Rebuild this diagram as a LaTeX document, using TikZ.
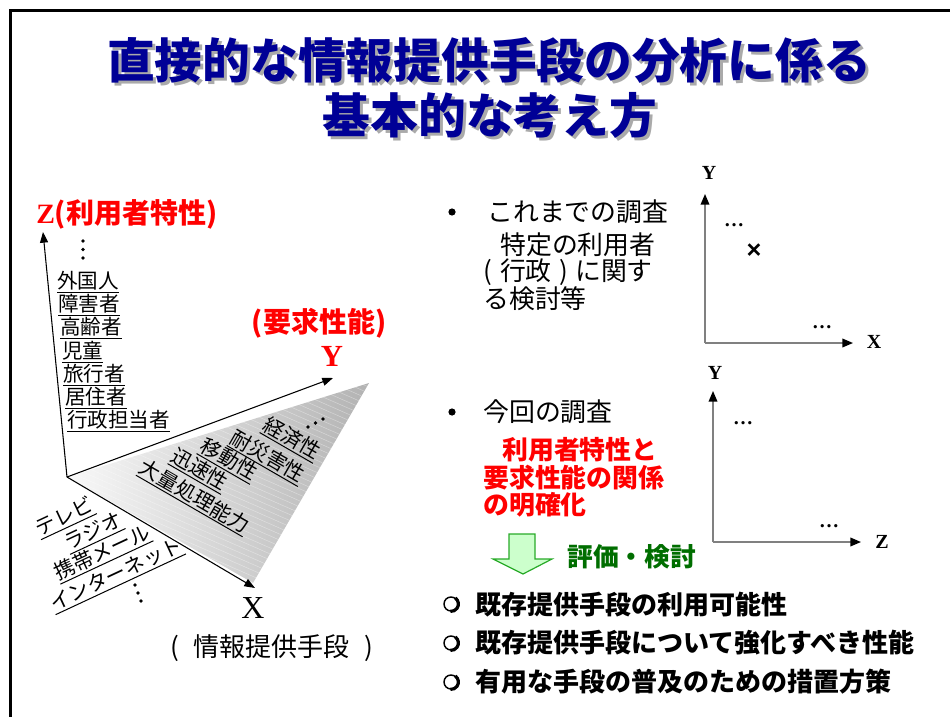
\documentclass[tikz,border=0pt]{standalone}
\usepackage{fontspec}
\setmainfont{Noto Sans CJK JP}
\newfontfamily\serif{Liberation Serif}
\newfontfamily\lsans{Liberation Sans}
\usetikzlibrary{arrows.meta}
\definecolor{titleblue}{RGB}{0,0,150}
\definecolor{shadowgray}{RGB}{170,170,170}
\definecolor{myred}{RGB}{255,0,0}
\definecolor{dgreen}{RGB}{0,110,0}
\definecolor{lgreen}{RGB}{204,255,204}
\definecolor{agreen}{RGB}{40,170,40}
\definecolor{axisgray}{RGB}{128,128,128}
\newcommand\fsz[1]{\fontsize{#1}{#1}\selectfont}
\newcommand\ulx[1]{\setbox0\hbox{#1}\rlap{\smash{\rule[-3.2pt]{\wd0}{0.75pt}}}\box0}
\tikzset{
  titletext/.style={font=\bfseries\fsz{35.8pt}, text=titleblue, inner sep=0pt},
  titleshadow/.style={font=\bfseries\fsz{35.8pt}, text=shadowgray, inner sep=0pt},
  zitem/.style={font=\fsz{15.4pt}, anchor=west, inner sep=0pt},
  ritem/.style={font=\fsz{15.4pt}, inner sep=0pt, rotate=-30},
  xitem/.style={font=\fsz{15.4pt}, inner sep=0pt, rotate=25},
  body/.style={font=\fsz{19.4pt}, anchor=west, inner sep=0pt},
  redbody/.style={font=\bfseries\fsz{19.4pt}, text=myred, anchor=west, inner sep=0pt},
  listitem/.style={font=\bfseries\fsz{19.5pt}, anchor=west, inner sep=0pt},
  axis3d/.style={line width=0.8pt, -{Triangle[length=8pt,width=6pt]}},
  axis2d/.style={draw=axisgray, line width=1.1pt, -{Triangle[length=8pt,width=6.5pt,color=black]}},
  glabel/.style={font=\serif\bfseries\fsz{15pt}, inner sep=0pt},
  dots/.style={font=\serif\bfseries\fsz{15pt}, inner sep=0pt},
  dotmark/.style={fill=black},
}
\begin{document}
\begin{tikzpicture}[x=0.75pt,y=-0.75pt]
\useasboundingbox (0,0) rectangle (950,717);
% frame
\draw[line width=2.2pt] (10.5,717) -- (10.5,10.5) -- (950,10.5);
% title
\node[titleshadow] at (492,63) {直接的な情報提供手段の分析に係る};
\node[titletext] (t1) at (489,60) {直接的な情報提供手段の分析に係る};
\node[titleshadow] at (493,118) {基本的な考え方};
\node[titletext] (t2) at (490,115) {基本的な考え方};

% ---------- left 3D diagram ----------
\coordinate (O) at (67,477);
\coordinate (Zt) at (43,232);
\coordinate (Yt) at (333,378);
\coordinate (Xt) at (255,588);
\coordinate (P1) at (68,477);
\coordinate (P2) at (369,383);
\coordinate (P3) at (253,583);
\shade[left color=gray!5, right color=gray!60] (P1) -- (P2) -- (P3) -- cycle;
\begin{scope}
\clip (P1) -- (P2) -- (P3) -- cycle;
\foreach \k in {-60,...,40} {
  \draw[white, opacity=0.4, line width=0.35pt] (60,300+\k*6) -- (380,440+\k*6);
}
\end{scope}
\draw[axis3d] (O) -- (Zt);
\draw[axis3d] (O) -- (Yt);
\draw[axis3d] (O) -- (Xt);

\node[font=\bfseries\fsz{21pt}, text=myred, anchor=west, inner sep=0pt] (zlab) at (36,214) {{\serif Z}(利用者特性)};
\fill[dotmark] (83,241) circle (1.8);
\fill[dotmark] (83,249.5) circle (1.8);
\fill[dotmark] (83,258) circle (1.8);
\node[zitem] (z1) at (57,281) {\ulx{外国人}};
\node[zitem] (z2) at (58,304) {\ulx{障害者}};
\node[zitem] (z3) at (60,327) {\ulx{高齢者}};
\node[zitem] (z4) at (62,351) {\ulx{児童}};
\node[zitem] (z5) at (63,374) {\ulx{旅行者}};
\node[zitem] (z6) at (65,397) {\ulx{居住者}};
\node[zitem] (z7) at (67,420) {\ulx{行政担当者}};

\node[font=\bfseries\fsz{21pt}, text=myred, inner sep=0pt] (ylab2) at (319,323) {(要求性能)};
\node[font=\serif\bfseries\fsz{23pt}, text=myred, inner sep=0pt] (ylab) at (332,356) {Y};

\fill[dotmark] (308,427) circle (1.9);
\fill[dotmark] (315.5,423) circle (1.9);
\fill[dotmark] (323,419) circle (1.9);
\node[ritem] (y1) at (292,438) {\ulx{経済性}};
\node[ritem] (y2) at (268,456) {\ulx{耐災害性}};
\node[ritem] (y3) at (229,459) {\ulx{移動性}};
\node[ritem] (y4) at (200,469) {\ulx{迅速性}};
\node[ritem] (y5) at (195,496) {\ulx{大量処理能力}};

\node[xitem] (x1) at (64,516) {\ulx{テレビ}};
\node[xitem] (x2) at (93,531) {\ulx{ラジオ}};
\node[xitem] (x3) at (102,552) {\ulx{携帯メール}};
\node[xitem] (x4) at (116,574) {\ulx{インターネット}};
\fill[dotmark] (135,585) circle (1.8);
\fill[dotmark] (138,593) circle (1.8);
\fill[dotmark] (141,601) circle (1.8);

\node[font=\serif\fsz{24pt}, inner sep=0pt] (xlab) at (253,608) {X};
\node[font=\fsz{19.5pt}, inner sep=0pt] (xlab2) at (272,648) {(\hspace{11pt}情報提供手段\hspace{11pt})};

% ---------- right side ----------
\fill (452,212) circle (3.6);
\node[body] (b1) at (487,212) {これまでの調査};
\node[body] (b1a) at (500,245) {特定の利用者};
\node[body] (b1b) at (483,272) {(\hspace{6pt}行政\hspace{6pt})\hspace{5pt}に関す};
\node[body] (b1c) at (483,299) {る検討等};

\fill (452,412) circle (3.6);
\node[body] (b2) at (483,412) {今回の調査};
\node[redbody] (r1) at (502,450) {利用者特性と};
\node[redbody] (r2) at (483,478) {要求性能の関係};
\node[redbody] (r3) at (483,505) {の明確化};

% green arrow
\filldraw[fill=lgreen, draw=agreen, line width=0.9pt, line join=miter]
  (509,534) -- (535,534) -- (535,559) -- (552,559) -- (523,574) -- (493,559) -- (509,559) -- cycle;
\node[font=\bfseries\fsz{19.3pt}, text=dgreen, anchor=west, inner sep=0pt] (eval) at (567,557) {評価・検討};

% graph 1
\coordinate (G1) at (705,343);
\coordinate (G1y) at (705,194);
\coordinate (G1x) at (853,343);
\draw[axis2d] (G1) -- (G1y);
\draw[axis2d] (G1) -- (G1x);
\node[glabel] (g1Y) at (709,173) {Y};
\node[glabel] (g1X) at (874,342) {X};
\node[dots] at (734,225) {…};
\node[font=\lsans\bfseries\fsz{19pt}, inner sep=0pt] (cross) at (754,251) {×};
\node[dots] at (822,327) {…};

% graph 2
\coordinate (G2) at (713,542);
\coordinate (G2y) at (713,391);
\coordinate (G2z) at (861,542);
\draw[axis2d] (G2) -- (G2y);
\draw[axis2d] (G2) -- (G2z);
\node[glabel] (g2Y) at (715,373) {Y};
\node[glabel] (g2Z) at (882,542) {Z};
\node[dots] at (743,423) {…};
\node[dots] at (829,526) {…};

% bottom list
\foreach \yy in {604,643,682} {
  \draw[line width=1.1pt] (451,\yy) circle (7);
  \draw[line width=2.4pt] (451,\yy) ++(-55:7.4) arc (-55:95:7.4);
}
\node[listitem] (l1) at (475,605) {既存提供手段の利用可能性};
\node[listitem] (l2) at (475,643) {既存提供手段について強化すべき性能};
\node[listitem] (l3) at (475,682) {有用な手段の普及のための措置方策};
\end{tikzpicture}
\end{document}
